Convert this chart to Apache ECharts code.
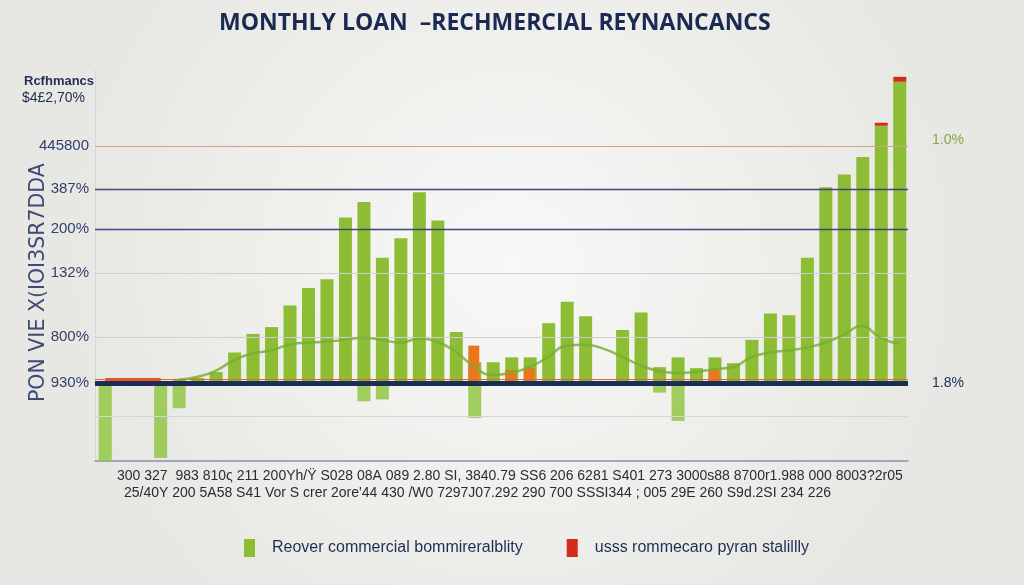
<!DOCTYPE html>
<html>
<head>
<meta charset="utf-8">
<script src="https://cdn.jsdelivr.net/npm/echarts@6/dist/echarts.min.js"></script>
<style>
  html, body { margin: 0; padding: 0; }
  #chart { width: 1024px; height: 585px; }
</style>
</head>
<body>
<div id="chart"></div>
<script>
// 44 monthly slots
const categories = [
  "1", "2", "3", "4", "5", "6", "7", "8", "9", "10", "11",
  "12", "13", "14", "15", "16", "17", "18", "19", "20", "21", "22",
  "23", "24", "25", "26", "27", "28", "29", "30", "31", "32", "33",
  "34", "35", "36", "37", "38", "39", "40", "41", "42", "43", "44"
];
// green bars above zero
const recover = [
  null, null, null, null, 4, 5, 11, 31, 50, 57, 79,
  97, 106, 169, 185, 128, 148, 195, 166, 52, 21, 21,
  26, 26, 61, 83, 68, null, 54, 72, 16, 26, 15,
  26, 20, 44, 71, 69, 128, 200, 213, 231, 263, 308
];
// green bars below zero
const dips = [
  -80, null, null, -77, -26, null, null, null, null, null, null,
  null, null, null, -19, -17, null, null, null, null, -36, null,
  null, null, null, null, null, null, null, null, -10, -39, null,
  null, null, null, null, null, null, null, null, null, null, null
];
// red caps on top of the green bars
const stability = [
  null, null, null, null, null, null, null, null, null, null, null,
  null, null, null, null, null, null, null, null, null, null, null,
  null, null, null, null, null, null, null, null, null, null, null,
  null, null, null, null, null, null, null, null, null, 3, 5
];
// orange bars
const orangeBars = [
  null, null, null, null, null, null, null, null, null, null, null,
  null, null, null, null, null, null, null, null, null, 38, null,
  13, 15, null, null, null, null, null, null, null, null, null,
  13, null, null, null, null, null, null, null, null, null, null
];
// smooth trend line
const trend = [
  null, null, null, null, 3, 6, 12, 23, 30, 33, 39,
  41, 42, 44, 46, 44, 41, 45, 42, 32, 17, 8,
  10, 16, 26, 38, 39, 35, 27, 18, 12, 10, 11,
  14, 16, 26, 31, 33, 36, 41, 49, 58, 46, 40
];
// horizontal reference lines and their labels
const gridValues = [242, 198, 157, 112, 47, 0, -34];
const gridLabels = ["445800", "387%", "200%", "132%", "800%", "930%", ""];
const gridColors = ["#c9a68a", "#3d4a7a", "#3d4a7a", "#cfcfd3", "#cfcfd3", "#1b2c55", "#d6d6da"];
const xLabelRow1 = "300 327  983 810ς 211 200Yh/Ÿ S028 08A 089 2.80 SI, 3840.79 SS6 206 6281 S401 273 3000s88 8700r1.988 000 8003?2r05";
const xLabelRow2 = "25/40Y 200 5A58 S41 Vor S crer 2ore'44 430 /W0 7297J07.292 290 700 SSSI344 ; 005 29E 260 S9d.2SI 234 226";

const navy = "#1d2b55";
const green = "#8cbd35";
const font = "Liberation Sans";

let chart = echarts.init(document.getElementById("chart"));

let markData = gridValues.map((v, i) => ({
  yAxis: v,
  lineStyle: { color: gridColors[i], width: v === 0 ? 5 : (i === 1 || i === 2 ? 1.4 : 1), type: "solid" },
  label: { show: true, position: "start", formatter: gridLabels[i], distance: 6 },
}));
// right side labels
markData.push({
  yAxis: 242,
  lineStyle: { color: "rgba(0,0,0,0)", width: 0 },
  label: { show: true, position: "end", formatter: "1.0%", color: "#86a84a", fontSize: 14, distance: 24, offset: [0, -6] },
});
markData.push({
  yAxis: 0,
  lineStyle: { color: "rgba(0,0,0,0)", width: 0 },
  label: { show: true, position: "end", formatter: "1.8%", color: navy, fontSize: 14, distance: 24 },
});
// thin orange line on top of the zero line
markData.push({
  yAxis: 3.5,
  lineStyle: { color: "#e46a2c", width: 1, type: "solid" },
  label: { show: false },
});
markData.push([
  { coord: [0, 4], lineStyle: { color: "#e2582a", width: 3, type: "solid" }, label: { show: false } },
  { coord: [3, 4] },
]);

chart.setOption({
  backgroundColor: {
    type: "radial",
    x: 0.5,
    y: 0.45,
    r: 0.75,
    colorStops: [
      { offset: 0, color: "#f8f8f6" },
      { offset: 1, color: "#e7e7e4" },
    ],
  },
  title: {
    text: "MONTHLY LOAN  \u2013RECHMERCIAL REYNANCANCS",
    left: 214,
    top: 7,
    textStyle: { color: "#1b2a52", fontSize: 23, fontWeight: "bold", fontFamily: "Open Sans" },
  },
  legend: {
    left: 239,
    top: 534,
    itemWidth: 11,
    itemHeight: 18,
    itemGap: 44,
    icon: "rect",
    data: ["Reover commercial bommireralblity", "usss rommecaro pyran stalillly"],
    textStyle: { color: "#1f2d52", fontSize: 16, fontFamily: font, padding: [0, 0, 0, 12] },
  },
  grid: {
    left: 95,
    right: 116,
    top: 70,
    bottom: 124,
  },
  xAxis: {
    type: "category",
    data: categories,
    axisLine: { onZero: false, lineStyle: { color: "#8a90a6", width: 1.5 } },
    axisTick: { show: false },
    axisLabel: { show: false },
  },
  yAxis: {
    type: "value",
    min: -80,
    max: 320,
    splitLine: { show: false },
    axisLabel: { show: false },
    axisTick: { show: false },
    axisLine: { show: true, lineStyle: { color: "#d8d8dc" } },
  },
  graphic: [
    {
      type: "text",
      left: 24,
      top: 75,
      style: { text: "Rcfhmancs", fill: "#1f2d52", fontSize: 13, fontWeight: "bold", fontFamily: font },
    },
    {
      type: "text",
      left: 22,
      top: 91,
      style: { text: "$4£2,70%", fill: "#1f2d52", fontSize: 14, fontFamily: font },
    },
    {
      type: "text",
      x: 28,
      y: 402,
      rotation: Math.PI / 2,
      style: { text: "PON VIE X(IOI3SR7DDA", fill: "#3d4a78", fontSize: 20.5, fontFamily: "DejaVu Sans" },
    },
    {
      type: "text",
      left: 117,
      top: 469,
      style: { text: xLabelRow1, fill: "#2b2b36", fontSize: 14, fontFamily: font },
    },
    {
      type: "text",
      left: 124,
      top: 486,
      style: { text: xLabelRow2, fill: "#2b2b36", fontSize: 14, fontFamily: font },
    },
  ],
  series: [
    {
      name: "Reover commercial bommireralblity",
      type: "bar",
      stack: "up",
      data: recover,
      barWidth: 13,
      barGap: "-100%",
      itemStyle: { color: green },
      z: 3,
    },
    {
      name: "usss rommecaro pyran stalillly",
      type: "bar",
      stack: "up",
      data: stability,
      barWidth: 13,
      barGap: "-100%",
      itemStyle: { color: "#d42b1c" },
      z: 3,
    },
    {
      name: "dips",
      type: "bar",
      data: dips,
      barWidth: 13,
      barGap: "-100%",
      itemStyle: { color: "#98c84e", opacity: 0.9 },
      z: 3,
      markLine: {
        silent: true,
        symbol: "none",
        animation: false,
        label: { color: "#34406c", fontSize: 15, fontFamily: font },
        data: markData,
      },
    },
    {
      name: "orange",
      type: "bar",
      data: orangeBars,
      barWidth: 11,
      barGap: "-100%",
      itemStyle: { color: "#e8771e" },
      z: 4,
    },
    {
      name: "trend",
      type: "line",
      data: trend,
      smooth: true,
      showSymbol: false,
      lineStyle: { color: "#78ad34", width: 2.5, opacity: 0.8 },
      z: 5,
    },
  ],
  animation: false,
});
</script>
</body>
</html>
